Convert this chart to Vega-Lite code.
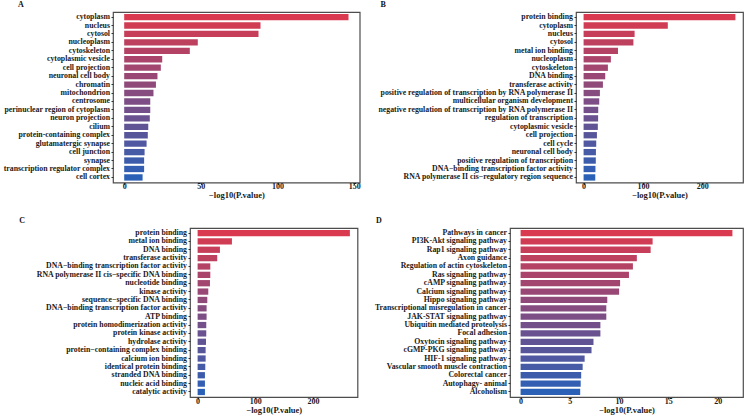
{
  "$schema": "https://vega.github.io/schema/vega-lite/v6.json",
  "padding": 0,
  "background": "white",
  "spacing": 16,
  "datasets": {
    "A": [
      {"rank": 1, "term": "cytoplasm", "value": 146.3},
      {"rank": 2, "term": "nucleus", "value": 88.9},
      {"rank": 3, "term": "cytosol", "value": 87.6},
      {"rank": 4, "term": "nucleoplasm", "value": 48.0},
      {"rank": 5, "term": "cytoskeleton", "value": 42.8},
      {"rank": 6, "term": "cytoplasmic vesicle", "value": 24.8},
      {"rank": 7, "term": "cell projection", "value": 23.9},
      {"rank": 8, "term": "neuronal cell body", "value": 21.7},
      {"rank": 9, "term": "chromatin", "value": 20.7},
      {"rank": 10, "term": "mitochondrion", "value": 19.1},
      {"rank": 11, "term": "centrosome", "value": 17.0},
      {"rank": 12, "term": "perinuclear region of cytoplasm", "value": 17.0},
      {"rank": 13, "term": "neuron projection", "value": 16.7},
      {"rank": 14, "term": "cilium", "value": 15.7},
      {"rank": 15, "term": "protein-containing complex", "value": 15.4},
      {"rank": 16, "term": "glutamatergic synapse", "value": 14.6},
      {"rank": 17, "term": "cell junction", "value": 13.3},
      {"rank": 18, "term": "synapse", "value": 13.0},
      {"rank": 19, "term": "transcription regulator complex", "value": 13.0},
      {"rank": 20, "term": "cell cortex", "value": 12.0}
    ],
    "B": [
      {"rank": 1, "term": "protein binding", "value": 256},
      {"rank": 2, "term": "cytoplasm", "value": 142},
      {"rank": 3, "term": "nucleus", "value": 86},
      {"rank": 4, "term": "cytosol", "value": 84},
      {"rank": 5, "term": "metal ion binding", "value": 58},
      {"rank": 6, "term": "nucleoplasm", "value": 46},
      {"rank": 7, "term": "cytoskeleton", "value": 41},
      {"rank": 8, "term": "DNA binding", "value": 36.5},
      {"rank": 9, "term": "transferase activity", "value": 32.6},
      {"rank": 10, "term": "positive regulation of transcription by RNA polymerase II", "value": 27.5},
      {"rank": 11, "term": "multicellular organism development", "value": 26.4},
      {"rank": 12, "term": "negative regulation of transcription by RNA polymerase II", "value": 24.7},
      {"rank": 13, "term": "regulation of transcription", "value": 24.5},
      {"rank": 14, "term": "cytoplasmic vesicle", "value": 24.0},
      {"rank": 15, "term": "cell projection", "value": 22.5},
      {"rank": 16, "term": "cell cycle", "value": 21.3},
      {"rank": 17, "term": "neuronal cell body", "value": 20.8},
      {"rank": 18, "term": "positive regulation of transcription", "value": 20.6},
      {"rank": 19, "term": "DNA−binding transcription factor activity", "value": 20.0},
      {"rank": 20, "term": "RNA polymerase II cis−regulatory region sequence", "value": 19.7}
    ],
    "C": [
      {"rank": 1, "term": "protein binding", "value": 264},
      {"rank": 2, "term": "metal ion binding", "value": 59.5},
      {"rank": 3, "term": "DNA binding", "value": 38.7},
      {"rank": 4, "term": "transferase activity", "value": 34.0},
      {"rank": 5, "term": "DNA−binding transcription factor activity", "value": 22.0},
      {"rank": 6, "term": "RNA polymerase II cis−specific DNA binding", "value": 22.0},
      {"rank": 7, "term": "nucleotide binding", "value": 21.4},
      {"rank": 8, "term": "kinase activity", "value": 18.5},
      {"rank": 9, "term": "sequence−specific DNA binding", "value": 16.8},
      {"rank": 10, "term": "DNA−binding transcription factor activity\u200b", "value": 15.6},
      {"rank": 11, "term": "ATP binding", "value": 15.6},
      {"rank": 12, "term": "protein homodimerization activity", "value": 15.0},
      {"rank": 13, "term": "protein kinase activity", "value": 15.0},
      {"rank": 14, "term": "hydrolase activity", "value": 14.5},
      {"rank": 15, "term": "protein−containing complex binding", "value": 13.9},
      {"rank": 16, "term": "calcium ion binding", "value": 13.9},
      {"rank": 17, "term": "identical protein binding", "value": 13.3},
      {"rank": 18, "term": "stranded DNA binding", "value": 12.7},
      {"rank": 19, "term": "nucleic acid binding", "value": 12.7},
      {"rank": 20, "term": "catalytic activity", "value": 12.7}
    ],
    "D": [
      {"rank": 1, "term": "Pathways in cancer", "value": 21.5},
      {"rank": 2, "term": "PI3K-Akt signaling pathway", "value": 13.4},
      {"rank": 3, "term": "Rap1 signaling pathway", "value": 13.2},
      {"rank": 4, "term": "Axon guidance", "value": 11.8},
      {"rank": 5, "term": "Regulation of actin cytoskeleton", "value": 11.4},
      {"rank": 6, "term": "Ras signaling pathway", "value": 11.0},
      {"rank": 7, "term": "cAMP signaling pathway", "value": 10.1},
      {"rank": 8, "term": "Calcium signaling pathway", "value": 10.0},
      {"rank": 9, "term": "Hippo signaling pathway", "value": 8.8},
      {"rank": 10, "term": "Transcriptional misregulation in cancer", "value": 8.7},
      {"rank": 11, "term": "JAK-STAT signaling pathway", "value": 8.7},
      {"rank": 12, "term": "Ubiquitin mediated proteolysis", "value": 8.1},
      {"rank": 13, "term": "Focal adhesion", "value": 8.1},
      {"rank": 14, "term": "Oxytocin signaling pathway", "value": 7.4},
      {"rank": 15, "term": "cGMP-PKG signaling pathway", "value": 7.2},
      {"rank": 16, "term": "HIF-1 signaling pathway", "value": 6.5},
      {"rank": 17, "term": "Vascular smooth muscle contraction", "value": 6.3},
      {"rank": 18, "term": "Colorectal cancer", "value": 6.15},
      {"rank": 19, "term": "Autophagy- animal", "value": 6.1},
      {"rank": 20, "term": "Alcoholism", "value": 6.05}
    ],
    "blank": [{"n": 0}]
  },
  "vconcat": [
    {
      "spacing": 0,
      "hconcat": [
        {
          "data": {"name": "blank"},
          "width": 1,
          "height": 1,
          "view": {"stroke": null},
          "mark": {"type": "rule", "opacity": 0},
          "encoding": {}
        },
        {
          "data": {"name": "A"},
          "width": 246.7,
          "height": 170.5,
          "title": {"text": "A", "dx": 15},
          "mark": {"type": "bar"},
          "encoding": {
            "y": {"field": "term", "type": "nominal", "sort": {"field": "rank", "op": "min", "order": "ascending"}, "axis": {"title": null, "minExtent": 108}},
            "x": {"field": "value", "type": "quantitative", "scale": {"domain": [-7.3, 153.6], "nice": false}, "axis": {"values": [0, 50, 100, 150], "title": "−log10(P.value)"}},
            "color": {"field": "rank", "type": "quantitative", "scale": {"domain": [1, 20], "range": ["#d93a4f", "#2a60b6"], "interpolate": "rgb"}, "legend": null}
          }
        },
        {
          "data": {"name": "B"},
          "width": 167,
          "height": 170.5,
          "title": {"text": "B", "dx": 18},
          "mark": {"type": "bar"},
          "encoding": {
            "y": {"field": "term", "type": "nominal", "sort": {"field": "rank", "op": "min", "order": "ascending"}, "axis": {"title": null, "minExtent": 213.5}},
            "x": {"field": "value", "type": "quantitative", "scale": {"domain": [-12.8, 268.8], "nice": false}, "axis": {"values": [0, 100, 200], "title": "−log10(P.value)"}},
            "color": {"field": "rank", "type": "quantitative", "scale": {"domain": [1, 20], "range": ["#d93a4f", "#2a60b6"], "interpolate": "rgb"}, "legend": null}
          }
        }
      ],
      "resolve": {"scale": {"x": "independent", "y": "independent"}}
    },
    {
      "spacing": 0,
      "hconcat": [
        {
          "data": {"name": "blank"},
          "width": 1,
          "height": 1,
          "view": {"stroke": null},
          "mark": {"type": "rule", "opacity": 0},
          "encoding": {}
        },
        {
          "data": {"name": "C"},
          "width": 167.5,
          "height": 169,
          "title": {"text": "C", "dx": 16},
          "mark": {"type": "bar"},
          "encoding": {
            "y": {"field": "term", "type": "nominal", "sort": {"field": "rank", "op": "min", "order": "ascending"}, "axis": {"title": null, "minExtent": 186.7}},
            "x": {"field": "value", "type": "quantitative", "scale": {"domain": [-13.2, 277.2], "nice": false}, "axis": {"values": [0, 100, 200], "title": "−log10(P.value)"}},
            "color": {"field": "rank", "type": "quantitative", "scale": {"domain": [1, 20], "range": ["#d93a4f", "#2a60b6"], "interpolate": "rgb"}, "legend": null}
          }
        },
        {
          "data": {"name": "D"},
          "width": 233,
          "height": 169,
          "title": {"text": "D", "dx": 15.5},
          "mark": {"type": "bar"},
          "encoding": {
            "y": {"field": "term", "type": "nominal", "sort": {"field": "rank", "op": "min", "order": "ascending"}, "axis": {"title": null, "minExtent": 149.5}},
            "x": {"field": "value", "type": "quantitative", "scale": {"domain": [-1.075, 22.575], "nice": false}, "axis": {"values": [0, 5, 10, 15, 20], "title": "−log10(P.value)"}},
            "color": {"field": "rank", "type": "quantitative", "scale": {"domain": [1, 20], "range": ["#d93a4f", "#2a60b6"], "interpolate": "rgb"}, "legend": null}
          }
        }
      ],
      "resolve": {"scale": {"x": "independent", "y": "independent"}}
    }
  ],
  "resolve": {"scale": {"x": "independent", "y": "independent"}},
  "config": {
    "font": "Liberation Serif",
    "view": {"stroke": "#4d4d4d", "strokeWidth": 1.2},
    "axis": {
      "labelFont": "Liberation Serif",
      "labelFontWeight": "bold",
      "labelColor": "#1a1a1a",
      "labelLimit": 0,
      "titleFont": "Liberation Serif",
      "titleFontWeight": "bold",
      "titleFontSize": 8.5,
      "titleColor": "#1a1a1a",
      "grid": false,
      "domain": false,
      "tickColor": "#333333",
      "tickSize": 2
    },
    "axisX": {"labelPadding": -2, "labelFontSize": 8, "titlePadding": 0},
    "axisY": {"labelPadding": 1.5, "labelFontSize": 7.8},
    "scale": {"bandPaddingInner": 0.25, "bandPaddingOuter": 0.225},
    "title": {"anchor": "start", "frame": "bounds", "font": "Liberation Serif", "fontWeight": "bold", "fontSize": 8, "offset": 3, "color": "#111111"}
  }
}
